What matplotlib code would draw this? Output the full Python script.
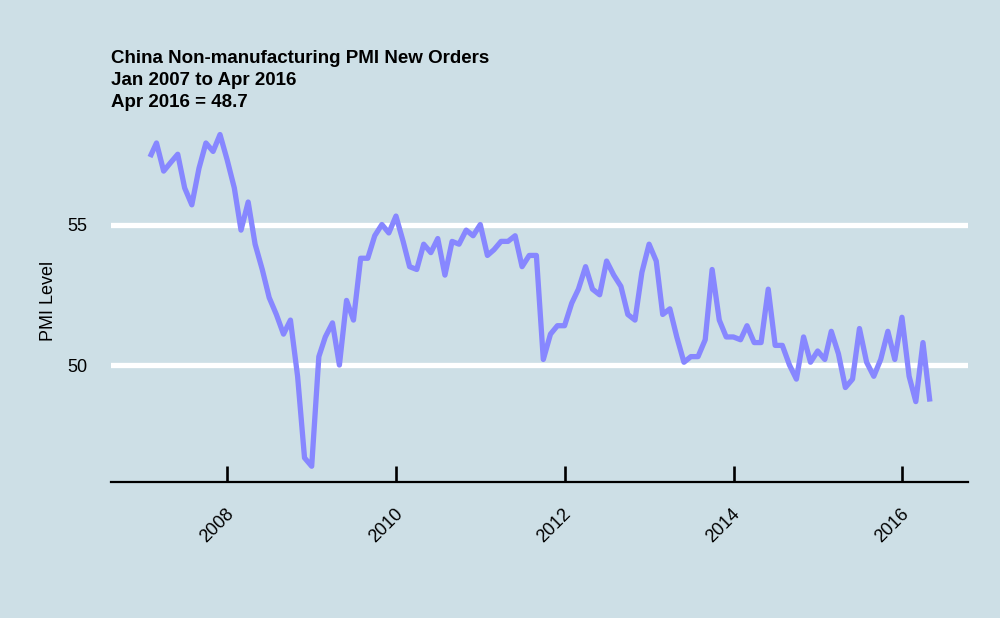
import matplotlib
matplotlib.use("Agg")
import matplotlib.pyplot as plt
import matplotlib.dates as mdates
import matplotlib.transforms as mtransforms
import numpy as np
import pandas as pd

# monthly readings, Jan 2007 .. Apr 2016
pmi_2007 = [57.4, 57.9, 56.9, 57.2, 57.5, 56.3, 55.7, 57.0, 57.9, 57.6, 58.2, 57.3]
pmi_2008 = [56.3, 54.8, 55.8, 54.3, 53.4, 52.4, 51.8, 51.1, 51.6, 49.6, 46.7, 46.4]
pmi_2009 = [50.3, 51.0, 51.5, 50.0, 52.3, 51.6, 53.8, 53.8, 54.6, 55.0, 54.7, 55.3]
pmi_2010 = [54.4, 53.5, 53.4, 54.3, 54.0, 54.5, 53.2, 54.4, 54.3, 54.8, 54.6, 55.0]
pmi_2011 = [53.9, 54.1, 54.4, 54.4, 54.6, 53.5, 53.9, 53.9, 50.2, 51.1, 51.4, 51.4]
pmi_2012 = [52.2, 52.7, 53.5, 52.7, 52.5, 53.7, 53.2, 52.8, 51.8, 51.6, 53.3, 54.3]
pmi_2013 = [53.7, 51.8, 52.0, 51.0, 50.1, 50.3, 50.3, 50.9, 53.4, 51.6, 51.0, 51.0]
pmi_2014 = [50.9, 51.4, 50.8, 50.8, 52.7, 50.7, 50.7, 50.0, 49.5, 51.0, 50.1, 50.5]
pmi_2015 = [50.2, 51.2, 50.4, 49.2, 49.5, 51.3, 50.1, 49.6, 50.2, 51.2, 50.2, 51.7]
pmi_2016 = [49.6, 48.7, 50.8, 48.7]

values = (pmi_2007 + pmi_2008 + pmi_2009 + pmi_2010 + pmi_2011 + pmi_2012
          + pmi_2013 + pmi_2014 + pmi_2015 + pmi_2016)
dates = pd.date_range("2007-01-31", periods=len(values), freq="ME")

y_ticks = [50, 55]
x_ticks = pd.to_datetime(["2008-01-01", "2010-01-01", "2012-01-01", "2014-01-01", "2016-01-01"])

bg = "#cddfe6"
line_color = "#8787ff"
font = 13

plt.rcParams["font.family"] = ["Liberation Sans", "DejaVu Sans"]

fig = plt.figure(figsize=(10, 6.18), dpi=100, facecolor=bg)
ax = fig.add_axes([0.111, 1 - 482 / 618, 0.857, (482 - 125) / 618])
ax.set_facecolor(bg)

ax.plot(dates, values, color=line_color, linewidth=3.8,
        solid_capstyle="butt", solid_joinstyle="round", zorder=3)

ax.set_ylim(45.84, 58.54)
ax.set_xlim(pd.Timestamp("2006-08-15"), pd.Timestamp("2016-10-12"))

ax.set_yticks(y_ticks)
ax.set_xticks(x_ticks)
ax.xaxis.set_major_formatter(mdates.DateFormatter("%Y"))

ax.grid(axis="y", color="white", linewidth=3.8, zorder=1)
ax.grid(axis="x", visible=False)
ax.set_axisbelow(True)

for side in ["left", "right", "top"]:
    ax.spines[side].set_visible(False)
ax.spines["bottom"].set_linewidth(1.6)
ax.spines["bottom"].set_color("black")

ax.tick_params(axis="y", length=0, pad=17, labelsize=font)
ax.tick_params(axis="x", direction="in", length=11.5, width=1.9,
               pad=21, labelsize=font)

offset = mtransforms.ScaledTranslation(4 / 100, 0, fig.dpi_scale_trans)
for label in ax.get_xticklabels():
    label.set_rotation(45)
    label.set_ha("right")
    label.set_va("center")
    label.set_rotation_mode("anchor")
    label.set_transform(label.get_transform() + offset)

fig.text(48.5 / 1000, 1 - 301 / 618, "PMI Level", rotation=90,
         ha="center", va="center", fontsize=font)

title_lines = ["China Non-manufacturing PMI New Orders",
               "Jan 2007 to Apr 2016",
               "Apr 2016 = 48.7"]
baselines = [63.3, 85.0, 107.3]
for txt, base in zip(title_lines, baselines):
    fig.text(111 / 1000, 1 - base / 618, txt, ha="left", va="baseline",
             fontsize=13.5, fontweight="bold")

fig.savefig("out.png", dpi=100, facecolor=bg)
plt.close(fig)
